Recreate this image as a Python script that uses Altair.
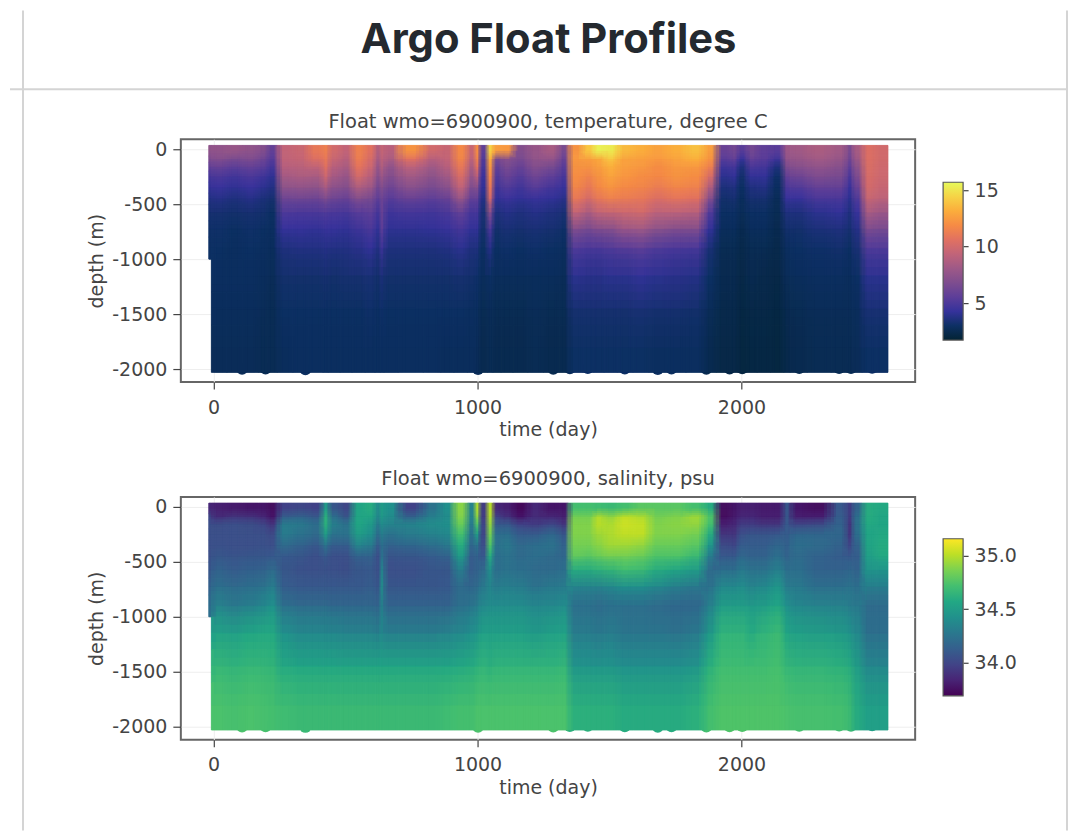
import altair as alt
import pandas as pd

N = None
TITLE = "Argo Float Profiles"
FLOAT_T = "Float wmo=6900900, temperature, degree C"
FLOAT_S = "Float wmo=6900900, salinity, psu"

# time boundaries of each profile band (day)
time_edges = [-18,-8,50,110,170,205,242,300,360,415,435,480,525,575,612,632,645,700,795,860,910,962,992,1006,1038,1058,1090,1135,1190,1250,1310,1345,1400,1440,1480,1530,1590,1650,1720,1790,1860,1905,1960,1985,2020,2060,2110,2160,2185,2250,2340,2400,2420,2458,2510,2555]
# depth boundaries of each layer (m)
depth_edges = [35,-60,-120,-200,-300,-400,-500,-650,-800,-1000,-1300,-1600,-2030]

temperature = [
[7.5,6.8,5.8,4.8,4.2,3.7,3.3,3.1,3.0,N,N,N],
[7.6,7.0,6.0,5.0,4.4,3.8,3.3,3.1,3.0,2.9,2.8,2.7],
[7.8,6.6,5.6,4.7,4.1,3.6,3.2,3.0,2.9,2.9,2.8,2.7],
[7.5,6.8,5.9,5.0,4.4,3.8,3.3,3.1,3.0,2.9,2.8,2.7],
[7.0,6.2,5.5,4.6,4.0,3.5,3.2,3.0,2.9,2.8,2.7,2.6],
[5.8,5.3,4.8,4.1,3.7,3.3,3.0,2.9,2.8,2.7,2.6,2.6],
[9.4,9.3,9.0,8.3,7.4,6.2,5.1,4.3,3.6,3.2,3.0,2.8],
[9.7,9.5,9.1,8.5,7.5,6.3,5.0,4.3,3.7,3.2,3.0,2.9],
[11.0,10.4,9.4,8.4,7.4,6.2,5.0,4.2,3.7,3.2,3.0,2.9],
[11.4,11.0,10.6,9.8,8.4,6.8,5.2,4.4,3.8,3.3,3.0,2.9],
[10.0,9.6,9.0,8.3,7.3,6.2,5.0,4.3,3.7,3.2,3.0,2.9],
[9.4,9.0,8.5,7.8,7.0,6.0,4.9,4.2,3.7,3.3,3.0,2.9],
[11.4,11.2,10.8,10.0,8.6,7.0,5.4,4.6,3.9,3.3,3.0,2.9],
[10.6,10.2,9.8,9.0,8.0,6.6,5.6,5.0,4.2,3.4,3.1,2.9],
[8.8,8.4,7.8,7.2,6.4,5.6,4.8,4.2,3.7,3.2,3.0,2.9],
[9.5,9.2,8.8,8.0,7.0,6.2,6.0,5.6,4.6,3.5,3.1,2.9],
[9.0,8.5,7.6,7.0,6.2,5.4,4.6,4.1,3.6,3.2,3.0,2.9],
[12.2,10.6,9.2,8.2,7.2,6.0,4.8,4.1,3.6,3.2,3.0,2.9],
[10.0,9.0,8.2,7.4,6.6,5.6,4.7,4.2,3.6,3.2,3.0,2.9],
[9.6,9.4,9.0,8.2,7.2,6.0,5.0,4.4,3.7,3.2,3.0,2.8],
[11.8,11.6,11.0,10.2,9.2,7.8,5.8,4.8,4.0,3.3,3.0,2.8],
[9.6,9.2,8.6,7.8,6.8,5.8,4.8,4.2,3.6,3.2,2.9,2.8],
[12.0,11.4,10.6,9.0,7.0,5.8,4.8,4.2,3.6,3.1,2.9,2.7],
[5.6,5.2,4.9,4.5,4.2,3.8,3.4,3.2,3.0,2.8,2.6,2.5],
[14.4,13.0,12.4,11.8,11.0,10.0,7.0,5.0,3.8,3.0,2.7,2.6],
[12.6,6.6,5.8,5.2,4.6,4.2,3.6,3.2,3.0,2.8,2.6,2.5],
[12.4,7.2,6.6,6.0,5.2,4.5,3.8,3.4,3.1,2.8,2.6,2.5],
[7.0,6.6,6.0,5.3,4.7,4.2,3.6,3.3,3.0,2.8,2.6,2.5],
[7.8,7.5,7.0,6.2,5.3,4.4,3.8,3.4,3.1,2.8,2.7,2.6],
[8.4,7.6,6.6,5.6,4.8,4.2,3.6,3.3,3.0,2.8,2.6,2.5],
[6.6,6.0,5.4,4.9,4.4,3.9,3.4,3.1,2.9,2.7,2.6,2.5],
[12.2,12.4,12.2,12.0,11.6,11.0,9.4,7.0,5.2,4.0,3.3,3.0],
[14.0,12.6,12.2,11.6,11.0,10.2,8.6,6.6,5.0,3.9,3.3,3.0],
[15.4,13.0,12.6,12.2,11.8,11.0,9.4,7.0,5.0,3.9,3.3,3.0],
[15.2,14.0,13.2,12.8,12.2,11.4,9.6,7.2,5.2,4.0,3.3,3.0],
[13.6,12.8,12.6,12.3,11.8,11.2,9.8,8.0,5.4,4.0,3.3,3.0],
[13.2,12.6,12.4,12.0,11.6,11.0,10.0,8.2,5.6,4.2,3.4,3.0],
[12.8,12.4,12.0,11.8,11.2,10.4,9.2,7.4,5.2,4.0,3.3,2.9],
[13.2,12.8,12.4,12.2,11.6,10.8,9.2,7.0,5.0,3.9,3.3,2.9],
[13.8,13.2,12.4,12.0,11.4,10.6,9.0,7.0,4.9,3.8,3.2,2.9],
[12.6,12.2,11.4,10.2,8.6,7.0,5.2,4.2,3.4,3.0,2.7,2.5],
[6.0,5.4,4.6,4.0,3.5,3.2,3.0,2.8,2.6,2.5,2.4,2.3],
[6.4,5.8,4.8,4.2,3.6,3.3,3.0,2.8,2.6,2.5,2.4,2.3],
[5.4,4.4,3.6,3.2,3.0,2.8,2.7,2.5,2.4,2.3,2.2,2.1],
[6.4,5.8,5.0,4.2,3.6,3.3,3.0,2.8,2.6,2.5,2.3,2.2],
[5.6,5.4,4.8,4.2,3.7,3.3,3.0,2.8,2.6,2.4,2.3,2.2],
[5.4,4.6,3.6,3.1,2.9,2.7,2.6,2.5,2.4,2.3,2.2,2.1],
[8.0,7.6,6.8,5.8,5.0,4.4,3.6,3.2,2.9,2.7,2.5,2.4],
[8.2,7.8,7.2,6.2,5.2,4.4,3.6,3.2,3.0,2.8,2.6,2.5],
[8.6,8.2,7.6,6.8,5.8,5.0,4.0,3.5,3.1,2.9,2.7,2.6],
[8.2,7.8,7.2,6.6,5.8,5.0,4.2,3.6,3.2,2.9,2.7,2.6],
[6.6,6.2,5.6,5.0,4.4,4.0,3.6,3.3,3.0,2.8,2.7,2.6],
[8.4,8.0,7.4,6.8,6.0,5.2,4.4,3.8,3.4,3.0,2.8,2.7],
[10.4,10.4,10.3,10.2,10.0,9.6,8.4,6.8,5.2,4.0,3.4,3.0],
[10.0,10.0,9.9,9.8,9.6,9.2,8.0,6.6,5.2,4.0,3.4,3.0],
]

salinity = [
[33.85,34.0,34.05,34.05,34.05,34.05,34.08,34.15,34.22,N,N,N],
[33.82,33.88,34.04,34.05,34.06,34.08,34.15,34.22,34.33,34.54,34.66,34.74],
[33.8,33.92,34.05,34.05,34.05,34.07,34.12,34.2,34.28,34.52,34.64,34.73],
[33.78,33.9,34.04,34.05,34.05,34.08,34.14,34.22,34.32,34.56,34.66,34.74],
[33.78,33.85,34.0,34.05,34.06,34.08,34.15,34.25,34.36,34.58,34.66,34.73],
[33.75,33.78,33.92,34.02,34.05,34.1,34.2,34.3,34.42,34.58,34.65,34.72],
[33.98,34.12,34.3,34.3,34.2,34.1,34.08,34.12,34.23,34.42,34.58,34.7],
[34.0,34.15,34.28,34.25,34.15,34.08,34.06,34.1,34.2,34.38,34.56,34.68],
[33.98,34.1,34.22,34.2,34.1,34.05,34.05,34.1,34.2,34.38,34.56,34.68],
[34.5,34.62,34.62,34.5,34.25,34.1,34.06,34.1,34.2,34.36,34.55,34.68],
[34.08,34.22,34.32,34.25,34.12,34.05,34.05,34.1,34.18,34.36,34.56,34.68],
[34.0,34.08,34.25,34.25,34.12,34.05,34.04,34.1,34.18,34.34,34.55,34.68],
[34.55,34.55,34.55,34.5,34.35,34.15,34.08,34.1,34.18,34.34,34.55,34.68],
[34.6,34.55,34.48,34.42,34.3,34.15,34.1,34.12,34.18,34.34,34.55,34.68],
[34.4,34.38,34.3,34.22,34.12,34.05,34.05,34.08,34.16,34.32,34.55,34.68],
[34.5,34.48,34.4,34.32,34.22,34.25,34.35,34.4,34.32,34.36,34.55,34.68],
[34.42,34.4,34.35,34.25,34.15,34.07,34.05,34.08,34.16,34.32,34.55,34.68],
[33.98,34.15,34.35,34.3,34.18,34.08,34.05,34.08,34.16,34.32,34.55,34.68],
[34.25,34.32,34.4,34.34,34.22,34.12,34.08,34.08,34.16,34.32,34.55,34.68],
[34.42,34.4,34.42,34.38,34.28,34.15,34.08,34.1,34.16,34.34,34.56,34.7],
[34.9,34.88,34.82,34.72,34.6,34.48,34.3,34.2,34.23,34.38,34.58,34.72],
[34.35,34.35,34.3,34.25,34.18,34.12,34.12,34.18,34.26,34.42,34.6,34.72],
[34.98,34.9,34.75,34.5,34.25,34.15,34.15,34.2,34.3,34.46,34.62,34.74],
[33.95,33.95,34.0,34.0,34.05,34.1,34.2,34.28,34.38,34.52,34.64,34.74],
[35.0,34.98,34.92,34.85,34.75,34.6,34.4,34.35,34.4,34.52,34.62,34.74],
[33.85,33.98,34.1,34.22,34.25,34.22,34.22,34.3,34.4,34.52,34.64,34.74],
[33.82,33.9,34.1,34.22,34.28,34.25,34.25,34.32,34.4,34.52,34.64,34.74],
[33.72,33.78,33.98,34.12,34.2,34.2,34.22,34.3,34.4,34.52,34.64,34.74],
[33.85,33.88,33.95,34.12,34.22,34.22,34.2,34.25,34.36,34.48,34.64,34.74],
[33.78,33.85,34.0,34.18,34.25,34.2,34.2,34.28,34.38,34.52,34.64,34.74],
[33.78,33.82,33.92,34.08,34.15,34.18,34.22,34.3,34.4,34.54,34.66,34.74],
[34.72,34.85,34.88,34.88,34.85,34.8,34.6,34.35,34.22,34.3,34.45,34.62],
[34.72,34.85,34.88,34.88,34.85,34.78,34.6,34.35,34.22,34.3,34.45,34.62],
[34.7,34.98,35.0,34.95,34.9,34.82,34.62,34.35,34.2,34.28,34.45,34.62],
[34.68,34.92,34.98,34.98,34.95,34.85,34.65,34.38,34.22,34.3,34.45,34.62],
[34.72,35.02,35.05,35.02,34.95,34.85,34.7,34.42,34.22,34.26,34.42,34.6],
[34.78,34.98,35.03,35.02,34.92,34.82,34.68,34.42,34.22,34.26,34.42,34.6],
[34.78,34.85,34.88,34.88,34.82,34.75,34.6,34.38,34.2,34.26,34.42,34.6],
[34.78,34.88,34.9,34.88,34.82,34.75,34.55,34.32,34.18,34.25,34.42,34.6],
[34.72,34.95,34.92,34.85,34.78,34.68,34.5,34.28,34.18,34.28,34.45,34.62],
[34.6,34.75,34.72,34.6,34.45,34.3,34.2,34.25,34.33,34.48,34.62,34.72],
[33.75,33.75,33.82,33.92,34.02,34.1,34.22,34.38,34.5,34.64,34.7,34.75],
[33.78,33.8,33.85,33.92,34.0,34.1,34.22,34.38,34.5,34.64,34.7,34.75],
[33.82,33.85,33.95,34.05,34.12,34.18,34.28,34.4,34.5,34.64,34.7,34.75],
[33.82,33.85,33.95,34.08,34.12,34.15,34.25,34.35,34.48,34.6,34.7,34.75],
[33.8,33.82,33.92,34.08,34.12,34.15,34.25,34.38,34.5,34.64,34.7,34.75],
[33.8,33.82,33.92,34.1,34.18,34.22,34.32,34.45,34.56,34.68,34.72,34.75],
[34.08,34.08,34.1,34.12,34.14,34.16,34.22,34.3,34.42,34.56,34.66,34.74],
[33.78,33.82,34.0,34.18,34.22,34.2,34.22,34.28,34.36,34.52,34.64,34.73],
[33.75,33.82,34.02,34.18,34.2,34.15,34.15,34.22,34.34,34.5,34.64,34.73],
[34.1,34.12,34.15,34.18,34.15,34.12,34.15,34.22,34.33,34.48,34.62,34.72],
[33.95,33.95,33.92,33.92,34.0,34.1,34.18,34.25,34.3,34.44,34.6,34.68],
[34.15,34.22,34.25,34.22,34.15,34.12,34.15,34.22,34.28,34.38,34.5,34.6],
[34.6,34.6,34.58,34.55,34.55,34.52,34.45,34.32,34.2,34.22,34.36,34.52],
[34.58,34.56,34.55,34.58,34.6,34.58,34.45,34.32,34.2,34.22,34.36,34.52],
]

# deepest samples that stick out below the sheet
deep_time = [108,197,348,1002,1287,1350,1418,1558,1683,1735,1867,1955,2003,2219,2370,2415,2495]
deep_depth = [-1998,-1996,-2002,-2000,-1998,-1994,-1992,-1996,-2000,-1996,-1998,-1996,-1994,-1992,-1990,-1992,-1988]
deep_temp = [2.7,2.6,2.9,2.7,2.5,2.7,3.0,3.0,2.9,2.9,2.5,2.3,2.1,2.5,2.6,2.6,3.0]
deep_sal = [34.74,34.73,34.68,34.74,34.74,34.62,34.62,34.6,34.6,34.6,34.72,34.75,34.75,34.73,34.72,34.68,34.52]

thermal = ["#032333","#0d3064","#35329b","#5d3e99","#7e4d8f","#9e5987","#c16479","#e17161","#f68b45","#fbad3c","#f6d346","#e7fa5a"]
viridis = ["#440154","#482475","#414487","#355f8d","#2a788e","#21918c","#22a884","#44bf70","#7ad151","#bddf26","#fde725"]

T_RANGE = [1.72, 15.71]
S_RANGE = [33.69, 35.16]
TEXT = "#444444"
FS = 19
# the same cells are redrawn with their borders moved a fraction of a cell,
# each pass averaged over the previous ones: it softens the cell borders
PASSES = [(0, 0), (0.24, 0.18), (-0.24, -0.18), (0.48, -0.3), (-0.48, 0.3)]


def stops(low, high, colors):
    return [low + (high - low) * i / (len(colors) - 1) for i in range(len(colors))]


def moved(edges, f):
    out = list(edges)
    for i in range(1, len(edges) - 1):
        gap = edges[i + 1] - edges[i] if f > 0 else edges[i] - edges[i - 1]
        out[i] = edges[i] + f * gap
    return out


def sheet(matrix, fd=0, ft=0):
    te = moved(time_edges, ft)
    de = moved(depth_edges, fd)
    rows = []
    for c, col in enumerate(matrix):
        for r, v in enumerate(col):
            if v is None:
                continue
            last = r + 1 == len(col) or col[r + 1] is None
            rows.append(dict(t0=te[c], t1=te[c + 1], d0=de[r],
                             d1=depth_edges[r + 1] if last else de[r + 1], v=v))
    return pd.DataFrame(rows)


def panel(matrix, title, deep_v, rng, colors):
    scale = alt.Scale(domain=stops(rng[0], rng[1], colors), range=colors, interpolate="rgb", clamp=True)
    xs = alt.Scale(domain=[-124, 2658], nice=False, zero=False)
    ys = alt.Scale(domain=[-2118, 91], nice=False, zero=False)
    x_enc = alt.X("t0:Q", scale=xs, title="time (day)",
                  axis=alt.Axis(values=[0, 1000, 2000], format="d", domain=False, tickSize=7, tickColor=TEXT,
                                tickWidth=1.2, labelFontSize=FS, labelColor=TEXT, titleFontSize=FS, titleColor=TEXT,
                                titleFontWeight="normal", labelFont="DejaVu Sans", titleFont="DejaVu Sans",
                                gridColor="#eeeeee", labelPadding=9, titlePadding=4))
    y_enc = alt.Y("d0:Q", scale=ys, title="depth (m)",
                  axis=alt.Axis(values=[0, -500, -1000, -1500, -2000], labelExpr="'' + datum.value", domain=False,
                                tickSize=8, tickColor=TEXT, tickWidth=1.2, labelFontSize=FS, labelColor=TEXT,
                                titleFontSize=FS, titleColor=TEXT, titleFontWeight="normal", labelFont="DejaVu Sans",
                                titleFont="DejaVu Sans", gridColor="#eeeeee", labelPadding=6, titlePadding=5))
    layers = []
    for k, (fd, ft) in enumerate(PASSES):
        if k == 0:
            mark = alt.Chart(sheet(matrix)).mark_rect(strokeWidth=0.8)
            layers.append(mark.encode(x=x_enc, x2="t1:Q", y=y_enc, y2="d1:Q",
                                      color=alt.Color("v:Q", scale=scale, legend=None),
                                      stroke=alt.Stroke("v:Q", scale=scale, legend=None)))
        else:
            mark = alt.Chart(sheet(matrix, fd, ft)).mark_rect(opacity=1 / (k + 1))
            layers.append(mark.encode(x=x_enc, x2="t1:Q", y=y_enc, y2="d1:Q",
                                      color=alt.Color("v:Q", scale=scale, legend=None)))
    deep = alt.Chart(pd.DataFrame(dict(t=deep_time, d=deep_depth, v=deep_v))).mark_circle(size=140, opacity=1).encode(
        x=alt.X("t:Q", scale=xs), y=alt.Y("d:Q", scale=ys),
        color=alt.Color("v:Q", scale=scale, legend=None),
    )
    return alt.layer(deep, *layers).properties(
        width=735, height=243,
        title=alt.TitleParams(title, fontSize=19.5, fontWeight="normal", color=TEXT, font="DejaVu Sans",
                              anchor="middle", offset=7),
        view=alt.ViewConfig(stroke="#666666", strokeWidth=2),
    )


def colorbar(rng, colors, domain, ticks, fmt):
    grad = alt.LinearGradient(
        gradient="linear", x1=0, x2=0, y1=1, y2=0,
        stops=[alt.GradientStop(offset=i / (len(colors) - 1), color=c) for i, c in enumerate(colors)],
    )
    return alt.Chart(pd.DataFrame(dict(lo=[rng[0]], hi=[rng[1]]))).mark_rect(
        color=grad, stroke="#555555", strokeWidth=1.2
    ).encode(
        y=alt.Y("lo:Q", title=None, scale=alt.Scale(domain=domain, nice=False, zero=False),
                axis=alt.Axis(orient="right", values=ticks, format=fmt, grid=False, domain=False, tickSize=5,
                              tickColor=TEXT, tickWidth=1.2, labelFontSize=FS, labelColor=TEXT,
                              labelFont="DejaVu Sans", labelPadding=6)),
        y2="hi:Q",
    ).properties(width=20, height=243, view=alt.ViewConfig(stroke="transparent"))


def spacer(w, h):
    return alt.Chart(pd.DataFrame(dict(a=[""]))).mark_text(opacity=0).encode(
        text="a:N", x=alt.value(w / 2), y=alt.value(h / 2)
    ).properties(width=w, height=h, view=alt.ViewConfig(stroke="transparent"))


frame = pd.DataFrame(dict(label=[TITLE]))
frame_color = "#d4d4d4"
header = alt.layer(
    alt.Chart(frame).mark_text(fontSize=41.7, fontWeight="bold", font="Inter", color="#24292f",
                               align="center", baseline="middle").encode(
        text="label:N", x=alt.value(540), y=alt.value(31)),
    alt.Chart(frame).mark_rule(color=frame_color, strokeWidth=2).encode(
        x=alt.value(1), x2=alt.value(1059), y=alt.value(80)),
    alt.Chart(frame).mark_rule(color=frame_color, strokeWidth=2).encode(
        x=alt.value(14), y=alt.value(1), y2=alt.value(822)),
    alt.Chart(frame).mark_rule(color=frame_color, strokeWidth=2).encode(
        x=alt.value(1059), y=alt.value(1), y2=alt.value(822)),
).properties(width=144, height=15, view=alt.ViewConfig(stroke="transparent"))

chart = alt.concat(
    header, spacer(735, 15), spacer(20, 15),
    spacer(144, 243), panel(temperature, FLOAT_T, deep_temp, T_RANGE, thermal),
    colorbar(T_RANGE, thermal, [-2.0, 19.52], [5, 10, 15], "d"),
    spacer(144, 243), panel(salinity, FLOAT_S, deep_sal, S_RANGE, viridis),
    colorbar(S_RANGE, viridis, [33.28, 35.551], [34, 34.5, 35], ".1f"),
    columns=3, spacing=alt.RowColnumber(row=115, column=28), bounds="flush",
).resolve_scale(color="independent", stroke="independent").properties(
    padding=0, background="white"
).configure_view(stroke="transparent")

chart.save("out.html", embed_options={"renderer": "svg", "actions": False})
